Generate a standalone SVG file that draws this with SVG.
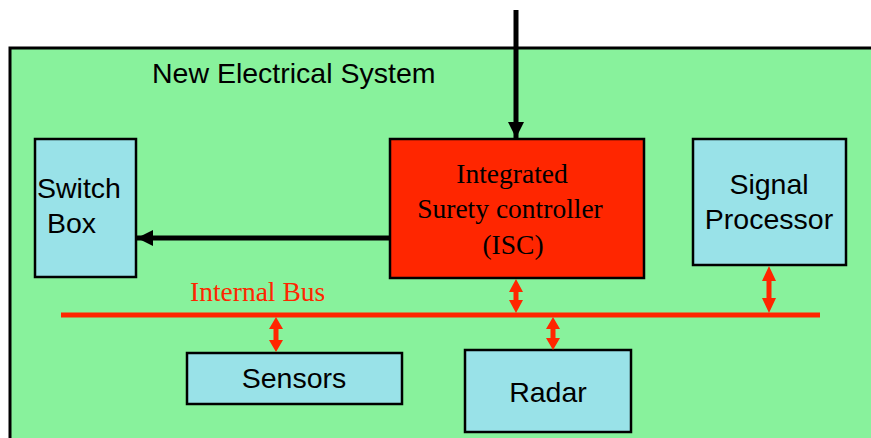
<svg xmlns="http://www.w3.org/2000/svg" width="871" height="438" viewBox="0 0 871 438">
<style>
.box{fill:#99e2e8;stroke:#000;stroke-width:2.5}
.sans{font-family:"Liberation Sans",Arial,sans-serif;font-size:28.5px;fill:#000}
.serif{font-family:"Liberation Serif","Times New Roman",serif;font-size:27.5px}
.red{fill:#ff2600}
.blk{stroke:#000;stroke-width:5;fill:none}
</style>
<defs>
<marker id="ah" markerUnits="userSpaceOnUse" markerWidth="20" markerHeight="20" refX="16" refY="8" orient="auto">
<path d="M0,0 L16,8 L0,16 Z" fill="#000"/>
</marker>
</defs>
<rect x="10" y="48" width="880" height="420" fill="#88f29c" stroke="#000" stroke-width="3"/>
<text class="sans" x="152" y="83">New Electrical System</text>
<g id="switchbox">
<rect class="box" x="35" y="139" width="101" height="138"/>
<text class="sans" x="37" y="198">Switch</text>
<text class="sans" x="47" y="233">Box</text>
</g>
<g id="isc">
<rect x="390" y="139" width="254" height="139" fill="#ff2600" stroke="#000" stroke-width="2.5"/>
<text class="serif" text-anchor="middle" fill="#000"><tspan x="512" y="183">Integrated</tspan><tspan x="510" y="218">Surety controller</tspan><tspan x="513" y="254">(ISC)</tspan></text>
</g>
<g id="signalprocessor">
<rect class="box" x="693" y="139" width="153" height="126"/>
<text class="sans" text-anchor="middle"><tspan x="769" y="194">Signal</tspan><tspan x="769" y="229">Processor</tspan></text>
</g>
<g id="sensors">
<rect class="box" x="187" y="353" width="215" height="51"/>
<text class="sans" x="294" y="388" text-anchor="middle">Sensors</text>
</g>
<g id="radar">
<rect class="box" x="465" y="350" width="166" height="82"/>
<text class="sans" x="548" y="402" text-anchor="middle">Radar</text>
</g>
<g id="bus">
<line x1="61" y1="315" x2="820" y2="315" stroke="#ff2600" stroke-width="5"/>
<text class="serif" x="190" y="301" fill="#ff2600">Internal Bus</text>
</g>
<g id="connectors">
<line class="blk" x1="516" y1="10" x2="516" y2="138" marker-end="url(#ah)"/>
<line class="blk" x1="390" y1="238" x2="137" y2="238" marker-end="url(#ah)"/>
<path class="red" d="M516,279 L523,292 L518.5,292 L518.5,300 L523,300 L516,313 L509,300 L513.5,300 L513.5,292 L509,292 Z"/>
<path class="red" d="M769,266 L776,281 L771.5,281 L771.5,298 L776,298 L769,313 L762,298 L766.5,298 L766.5,281 L762,281 Z"/>
<path class="red" d="M276,317 L283,329 L278.5,329 L278.5,340 L283,340 L276,352 L269,340 L273.5,340 L273.5,329 L269,329 Z"/>
<path class="red" d="M553,317 L560,329 L555.5,329 L555.5,338 L560,338 L553,350 L546,338 L550.5,338 L550.5,329 L546,329 Z"/>
</g>
</svg>
